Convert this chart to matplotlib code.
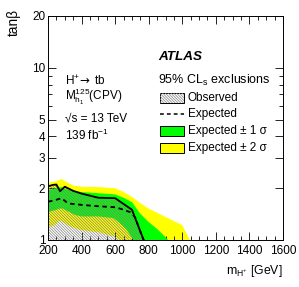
import matplotlib
matplotlib.use('Agg')
import matplotlib.pyplot as plt
from matplotlib.patches import Rectangle
from matplotlib.lines import Line2D
from matplotlib.ticker import FixedLocator, NullFormatter, MultipleLocator

plt.rcParams['font.family'] = ['Liberation Sans', 'DejaVu Sans']
plt.rcParams['mathtext.fontset'] = 'custom'
plt.rcParams['mathtext.rm'] = 'Liberation Sans'
plt.rcParams['mathtext.it'] = 'Liberation Sans:italic'
plt.rcParams['mathtext.sf'] = 'DejaVu Sans'
plt.rcParams['hatch.linewidth'] = 0.5

# expected +2 sigma (upper edge of yellow band)
up2_m = [200, 250, 280, 300, 350, 400, 500, 600, 650, 700, 750, 800, 850, 900, 1000, 1045]
up2_t = [2.14, 2.20, 2.26, 2.20, 2.07, 2.04, 2.03, 2.00, 1.90, 1.78, 1.64, 1.52, 1.44, 1.36, 1.22, 1.0]
# expected -2 sigma (lower edge of yellow band)
dn2_m = [200, 240, 270, 300, 330, 400, 500, 590, 625]
dn2_t = [1.18, 1.22, 1.30, 1.25, 1.20, 1.14, 1.11, 1.05, 1.0]
# expected +1 sigma
up1_m = [200, 250, 280, 300, 350, 400, 500, 600, 650, 700, 750, 800, 850, 900, 915]
up1_t = [1.95, 2.00, 2.03, 1.98, 1.93, 1.90, 1.87, 1.84, 1.76, 1.66, 1.42, 1.27, 1.16, 1.04, 1.0]
# expected -1 sigma
dn1_m = [200, 250, 280, 300, 360, 400, 500, 590, 630, 670, 700, 710]
dn1_t = [1.45, 1.50, 1.53, 1.50, 1.40, 1.37, 1.37, 1.34, 1.25, 1.14, 1.03, 1.0]
# expected median
exp_m = [200, 240, 280, 320, 400, 500, 600, 650, 690, 720, 760, 770]
exp_t = [1.67, 1.70, 1.75, 1.63, 1.60, 1.57, 1.55, 1.50, 1.45, 1.35, 1.05, 1.0]
# observed
obs_m = [200, 200, 230, 250, 272, 300, 350, 400, 500, 600, 700, 770]
obs_t = [1.0, 2.05, 2.09, 2.10, 1.92, 2.04, 1.93, 1.86, 1.76, 1.75, 1.50, 1.0]

yticks = [1, 2, 3, 4, 5, 10, 20]
yminor = [6, 7, 8, 9]

HATCH = '\\' * 12
HATCH_C = '#808080'

fig = plt.figure(figsize=(2.99, 2.87), dpi=100)
ax = fig.add_axes([48 / 299, 47 / 287, 235 / 299, 224 / 287])
ax.set_yscale('log')
ax.set_xlim(200, 1600)
ax.set_ylim(1, 20)

ax.fill(up2_m + dn2_m[::-1], up2_t + dn2_t[::-1], color='#ffff00', lw=0, zorder=1)
ax.fill(up1_m + dn1_m[::-1], up1_t + dn1_t[::-1], color='#00ff00', lw=0, zorder=2)
ax.fill(obs_m, obs_t, facecolor='none', edgecolor=HATCH_C, hatch=HATCH, lw=0, zorder=3)
ax.plot(exp_m, exp_t, color='black', ls=(0, (2.5, 2)), lw=1.3, zorder=4)
ax.plot(obs_m, obs_t, color='black', lw=1.3, zorder=5)

ax.yaxis.set_major_locator(FixedLocator(yticks))
ax.yaxis.set_minor_locator(FixedLocator(yminor))
ax.set_yticklabels([str(v) for v in yticks])
ax.yaxis.set_minor_formatter(NullFormatter())
ax.xaxis.set_major_locator(MultipleLocator(200))
ax.xaxis.set_minor_locator(MultipleLocator(50))
ax.tick_params(which='both', direction='in', top=True, right=True, labelsize=8.5, width=0.6, pad=2)
ax.tick_params(axis='x', which='major', pad=3.5)
ax.tick_params(which='major', length=6)
ax.tick_params(which='minor', length=3)
for s in ax.spines.values():
    s.set_linewidth(0.7)

fig.text(283 / 299, 1 - 271 / 287, 'm$_{\\mathrm{H^{+}}}$ [GeV]', ha='right', va='center', fontsize=8.8)
fig.text(14 / 299, 1 - 9 / 287, 'tanβ', rotation=90, ha='center', va='top', fontsize=9.8)

def px(x, y):
    return x / 299, 1 - y / 287

fs = 8.5
fig.text(*px(65, 81), 'H$^{+}\\!\\mathsf{\\rightarrow}$ tb', va='center', fontsize=fs)
fig.text(*px(65, 97), '$\\mathrm{M}_{\\mathrm{h}_{1}}^{125}$(CPV)', va='center', fontsize=fs)
fig.text(*px(65, 119), '√s = 13 TeV', va='center', fontsize=fs)
fig.text(*px(65, 135), '139 fb$^{-1}$', va='center', fontsize=fs)

fig.text(*px(158, 57), 'ATLAS', va='center', fontsize=9.7, weight='bold', style='italic')
fig.text(*px(158, 80), '95% CL$_{\\mathrm{s}}$ exclusions', va='center', fontsize=9.0)

ftr = fig.transFigure
rows = [
    ('Observed', 98),
    ('Expected', 114),
    ('Expected ± 1 σ', 131),
    ('Expected ± 2 σ', 148),
]
box_x0, box_x1, box_h = 160, 184, 10
for label, yc in rows:
    x0, y0 = px(box_x0, yc + box_h / 2)
    w = (box_x1 - box_x0) / 299
    h = box_h / 287
    if label == 'Observed':
        fig.patches.append(Rectangle((x0, y0), w, h, transform=ftr, facecolor='white',
                                     edgecolor='black', lw=0.7))
        fig.patches.append(Rectangle((x0, y0), w, h, transform=ftr, facecolor='none',
                                     edgecolor=HATCH_C, lw=0, hatch=HATCH))
    elif label == 'Expected':
        xa, ya = px(box_x0, yc)
        xb, _ = px(box_x1, yc)
        fig.lines.append(Line2D([xa, xb], [ya, ya], transform=ftr, color='black',
                                ls=(0, (2.5, 2)), lw=1.1))
    else:
        c = '#00ff00' if '1' in label else '#ffff00'
        fig.patches.append(Rectangle((x0, y0), w, h, transform=ftr, facecolor=c,
                                     edgecolor='black', lw=0.7))
    fig.text(*px(188, yc), label, va='center', fontsize=fs)

fig.savefig('out.png', dpi=100)
